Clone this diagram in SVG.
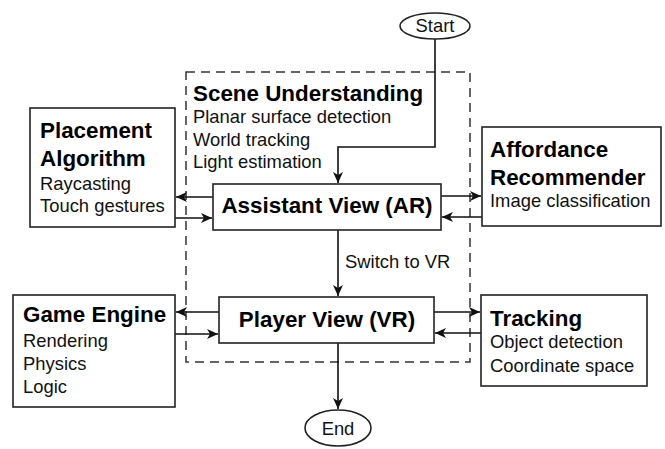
<svg xmlns="http://www.w3.org/2000/svg" width="665" height="449" viewBox="0 0 665 449">
<style>
.box{fill:#fff;stroke:#222;stroke-width:1.6}
.dash{fill:none;stroke:#333;stroke-width:1.5;stroke-dasharray:9 6}
.conn{fill:none;stroke:#111;stroke-width:1.6;marker-end:url(#ah)}
.b{font-family:"Liberation Sans",Arial,sans-serif;font-weight:bold;font-size:22.4px;fill:#000}
.r{font-family:"Liberation Sans",Arial,sans-serif;font-size:18.4px;fill:#111}
</style>
<defs>
<marker id="ah" markerWidth="12" markerHeight="10" refX="11" refY="5" orient="auto" markerUnits="userSpaceOnUse">
<path d="M0,0 L11,5 L0,10 L3,5 Z" fill="#111"/>
</marker>
</defs>
<rect class="dash" x="186" y="72" width="284" height="290"/>
<g id="scene">
<text class="b" x="193" y="101">Scene Understanding</text>
<text class="r" x="193" y="123">Planar surface detection</text>
<text class="r" x="193" y="146">World tracking</text>
<text class="r" x="193" y="168">Light estimation</text>
</g>
<g id="connectors">
<path class="conn" d="M435,39 V147 H338 V183"/>
<path class="conn" d="M213,197 H176"/>
<path class="conn" d="M175,218 H212"/>
<path class="conn" d="M441,196 H481"/>
<path class="conn" d="M482,217 H442"/>
<path class="conn" d="M338,230 V296"/>
<text class="r" x="345" y="268">Switch to VR</text>
<path class="conn" d="M219,312 H176"/>
<path class="conn" d="M175,334 H218"/>
<path class="conn" d="M434,312 H480"/>
<path class="conn" d="M481,333 H435"/>
<path class="conn" d="M338,343 V409"/>
</g>
<g id="start">
<ellipse class="box" cx="435" cy="26" rx="35" ry="13"/>
<text class="r" x="435" y="32" text-anchor="middle">Start</text>
</g>
<g id="end">
<ellipse class="box" cx="338" cy="428" rx="33" ry="18"/>
<text class="r" x="338" y="435" text-anchor="middle">End</text>
</g>
<g id="placement">
<rect class="box" x="30" y="108" width="145" height="119"/>
<text class="b" x="40" y="138">Placement</text>
<text class="b" x="40" y="166">Algorithm</text>
<text class="r" x="40" y="190">Raycasting</text>
<text class="r" x="40" y="212">Touch gestures</text>
</g>
<g id="assistant">
<rect class="box" x="213" y="184" width="228" height="46"/>
<text class="b" x="327" y="213" text-anchor="middle">Assistant View (AR)</text>
</g>
<g id="affordance">
<rect class="box" x="482" y="127" width="179" height="99"/>
<text class="b" x="490" y="157">Affordance</text>
<text class="b" x="490" y="185">Recommender</text>
<text class="r" x="490" y="207">Image classification</text>
</g>
<g id="player">
<rect class="box" x="219" y="297" width="215" height="46"/>
<text class="b" x="327" y="327" text-anchor="middle">Player View (VR)</text>
</g>
<g id="game">
<rect class="box" x="13" y="295" width="162" height="112"/>
<text class="b" x="23" y="322">Game Engine</text>
<text class="r" x="23" y="347">Rendering</text>
<text class="r" x="23" y="370">Physics</text>
<text class="r" x="23" y="393">Logic</text>
</g>
<g id="tracking">
<rect class="box" x="481" y="295" width="166" height="91"/>
<text class="b" x="490" y="326">Tracking</text>
<text class="r" x="490" y="348">Object detection</text>
<text class="r" x="490" y="372">Coordinate space</text>
</g>
</svg>
